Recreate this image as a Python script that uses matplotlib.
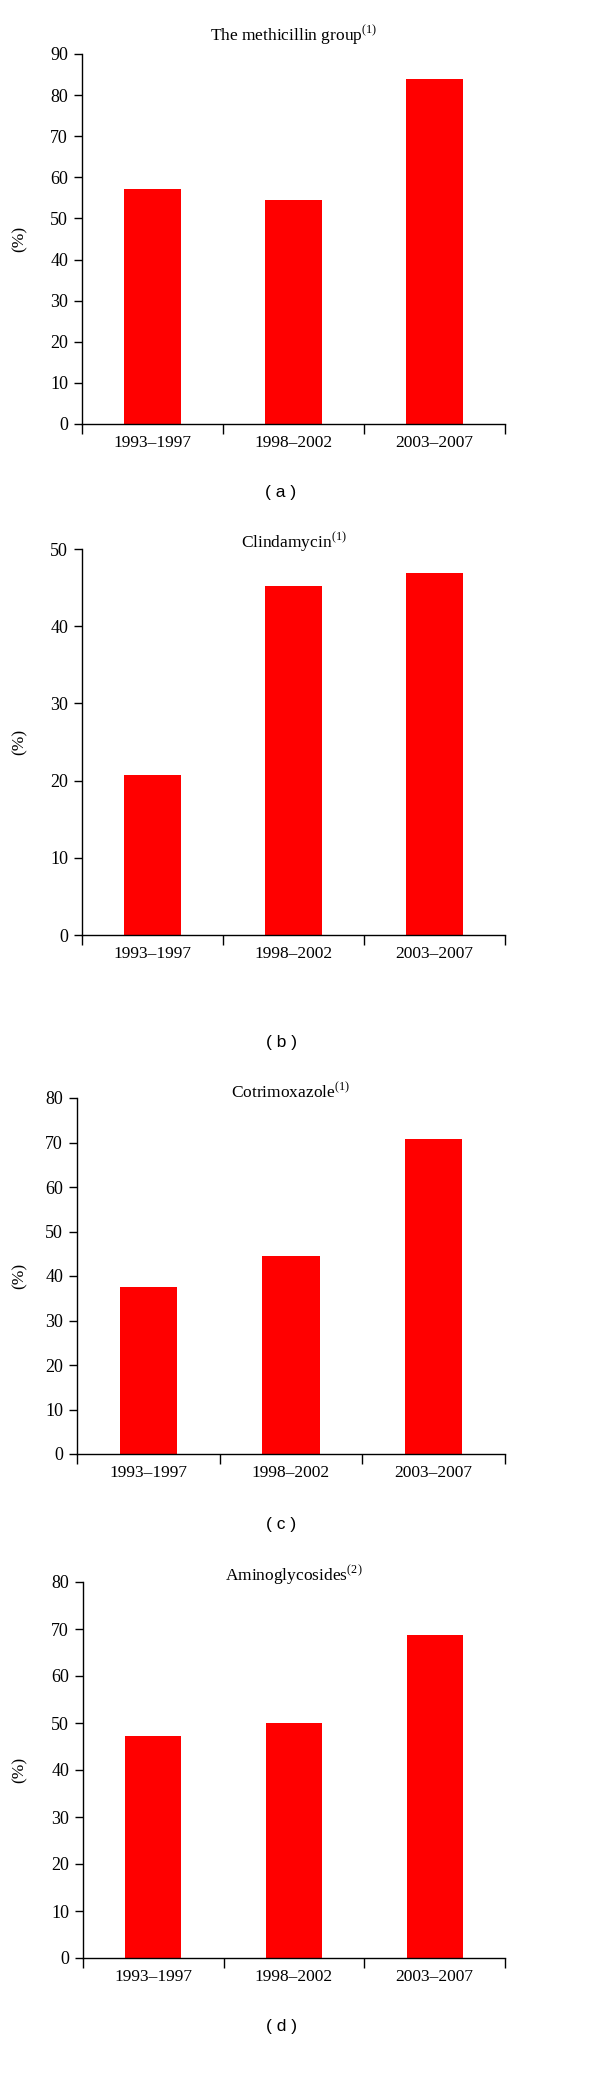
import numpy as np
import matplotlib.pyplot as plt

plt.rc('font', family=['Liberation Serif', 'DejaVu Serif'], size=12)
plt.rc('mathtext', fontset='stix')

periods = ["1993\u20131997", "1998\u20132002", "2003\u20132007"]
methicillin = [57.1, 54.5, 83.8]
clindamycin = [20.7, 45.2, 46.9]
cotrimoxazole = [37.5, 44.4, 70.8]
aminoglycosides = [47.2, 50.0, 68.8]

titles = ["The methicillin group", "Clindamycin", "Cotrimoxazole", "Aminoglycosides"]
notes = ["1", "1", "1", "2"]
panel_tags = ["( a )", "( b )", "( c )", "( d )"]
ymaxes = [90, 50, 80, 80]
ysteps = [10, 10, 10, 10]
series = [methicillin, clindamycin, cotrimoxazole, aminoglycosides]

W, H = 600, 2076
fig = plt.figure(figsize=(W / 100, H / 100), dpi=100)

# axes boxes in pixels: left, right, y of zero line, y of top
boxes = [(82, 505, 424, 54), (82, 505, 935, 549), (77, 505, 1454, 1098), (83, 505, 1958, 1582)]
title_gap = [19, 7, 6, 7]
tag_y = [493, 1042, 1525, 2027]

for i, vals in enumerate(series):
    l, r, y0, y1 = boxes[i]
    ax = fig.add_axes([l / W, 1 - y0 / H, (r - l) / W, (y0 - y1) / H])
    x = np.arange(len(periods))
    ax.bar(x, vals, width=0.4, color='#ff0000')
    ax.set_xlim(-0.5, len(periods) - 0.5)
    ax.set_ylim(0, ymaxes[i])
    ax.set_yticks(np.arange(0, ymaxes[i] + 1, ysteps[i]))
    ax.set_xticks(np.arange(-0.5, len(periods)), labels=[])
    ax.set_xticks(x, labels=periods, minor=True)
    ax.tick_params(axis='x', which='major', direction='out', length=7, width=1)
    ax.tick_params(axis='x', which='minor', length=0, pad=8, labelsize=12.5)
    ax.tick_params(axis='y', direction='out', length=6, width=1, pad=4, labelsize=13)
    for s in ['top', 'right']:
        ax.spines[s].set_visible(False)
    for s in ['left', 'bottom']:
        ax.spines[s].set_linewidth(1)
    ax.set_ylabel("(%)", fontsize=12.5)
    ax.yaxis.set_label_coords(-(l - 28) / (r - l), 0.5)
    fig.text((l + r) / 2 / W, 1 - (y1 - title_gap[i]) / H,
             titles[i] + r"$^{\mathregular{(" + notes[i] + r")}}$",
             ha='center', va='center', fontsize=12.5)
    fig.text(281 / W, 1 - tag_y[i] / H, panel_tags[i], ha='center', va='center',
             fontsize=12.5, family=['Liberation Sans', 'DejaVu Sans'])

plt.savefig("out.png", dpi=100)
